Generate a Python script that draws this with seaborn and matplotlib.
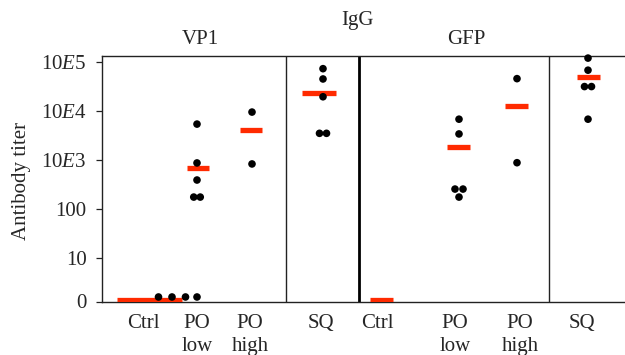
import numpy as np
import pandas as pd
import matplotlib
matplotlib.use("Agg")
import matplotlib.pyplot as plt
import seaborn as sns

# ---------------- data ----------------
antigens = ["VP1", "GFP"]
groups = ["Ctrl", "PO\nlow", "PO\nhigh", "SQ"]

vp1_ctrl = [0, 0, 0]
vp1_po_low = [5400, 870, 390, 175, 175, 0]
vp1_po_high = [9500, 830]
vp1_sq = [73000, 45000, 19500, 3500, 3500]
vp1_means = [0, 690, 4050, 23000]

gfp_ctrl = []
gfp_po_low = [6800, 3400, 255, 255, 175]
gfp_po_high = [45700, 880]
gfp_sq = [120000, 68000, 31500, 31500, 6800]
gfp_means = [0, 1840, 12600, 48800]

ytick_values = [0, 10, 100, 1000, 10000, 100000]
ytick_labels = ["0", "10", "100",
                r"$\mathrm{10}\mathit{E}\mathrm{3}$",
                r"$\mathrm{10}\mathit{E}\mathrm{4}$",
                r"$\mathrm{10}\mathit{E}\mathrm{5}$"]

# ---------------- layout (x in axes units, pixel-like) ----------------
label_x = {"VP1": [143, 197, 250, 321], "GFP": [377, 455, 520, 582]}
dot_x = {"VP1": [172, 197, 252, 323], "GFP": [381, 459, 517, 588]}
dot_gap = {"VP1": [13.5, 6.5, 6.5, 7], "GFP": [7, 8, 7, 7]}
bar_span = {"VP1": [(117, 182), (187, 209), (240, 262), (302, 336)],
            "GFP": [(370, 393), (447, 470), (505, 528), (577, 600)]}
thin_lines = [286, 549]
thick_line = 359
ZERO_DOT = 1.6     # where zero values are drawn on the log axis
ZERO_BAR = 1.42
YMIN, YMAX = 10 ** 0.112, 10 ** 5.122
FS = 15

values = {"VP1": [vp1_ctrl, vp1_po_low, vp1_po_high, vp1_sq],
          "GFP": [gfp_ctrl, gfp_po_low, gfp_po_high, gfp_sq]}
means = {"VP1": vp1_means, "GFP": gfp_means}

rows = []
for ag in antigens:
    for gi, vals in enumerate(values[ag]):
        vals = list(vals)
        uniq = []
        for v in vals:
            if v not in uniq:
                uniq.append(v)
        for u in uniq:
            n = vals.count(u)
            offs = (np.arange(n) - (n - 1) / 2) * dot_gap[ag][gi]
            for o in offs:
                rows.append({"x": dot_x[ag][gi] + o,
                             "y": u if u > 0 else ZERO_DOT})
df = pd.DataFrame(rows)

# ---------------- plot ----------------
sns.set_style("white")
plt.rcParams["font.family"] = ["Liberation Serif", "DejaVu Serif"]
plt.rcParams["mathtext.fontset"] = "custom"
plt.rcParams["mathtext.rm"] = "Liberation Serif"
plt.rcParams["mathtext.it"] = "Liberation Serif:italic"

fig = plt.figure(figsize=(6.25, 3.55), dpi=100)
ax = fig.add_axes([102 / 625, (355 - 301.5) / 355, 523 / 625, (301.5 - 56) / 355])

red = "#ff2a00"
for ag in antigens:
    for gi, m in enumerate(means[ag]):
        x0, x1 = bar_span[ag][gi]
        ax.hlines(m if m > 0 else ZERO_BAR, x0, x1, color=red, lw=3.8, zorder=3)

sns.scatterplot(data=df, x="x", y="y", ax=ax, color="black", s=30,
                edgecolor="none", zorder=4, legend=False, clip_on=False)

ax.set_yscale("log")
ax.set_ylim(YMIN, YMAX)
ax.set_xlim(102, 625)

for xl in thin_lines:
    ax.axvline(xl, color="#222222", lw=1.0, zorder=2)
ax.axvline(thick_line, color="black", lw=2.0, zorder=2)

ax.set_yticks([v if v > 0 else YMIN for v in ytick_values])
ax.set_yticklabels(ytick_labels)
ax.minorticks_off()
ax.tick_params(axis="y", which="major", left=True, length=4, width=0.9,
               color="#222222", pad=7, labelsize=FS)

xt = label_x["VP1"] + label_x["GFP"]
ax.set_xticks(xt)
ax.set_xticklabels(groups + groups)
ax.tick_params(axis="x", length=0, pad=9, labelsize=FS)
for lab in ax.get_xticklabels():
    lab.set_linespacing(1.3)

ax.set_xlabel("")
ax.set_ylabel("Antibody titer", fontsize=FS)
ax.yaxis.set_label_coords(-0.135, 0.49)

for s in ["left", "top", "bottom"]:
    ax.spines[s].set_visible(True)
    ax.spines[s].set_color("#222222")
    ax.spines[s].set_linewidth(1.0)
ax.spines["right"].set_visible(False)

fig.text(358 / 625, 1 - 20 / 355, "IgG", ha="center", va="center", fontsize=FS)
fig.text(200 / 625, 1 - 40 / 355, "VP1", ha="center", va="center", fontsize=FS)
fig.text(466 / 625, 1 - 40 / 355, "GFP", ha="center", va="center", fontsize=FS)

fig.savefig("out.png", dpi=100)
